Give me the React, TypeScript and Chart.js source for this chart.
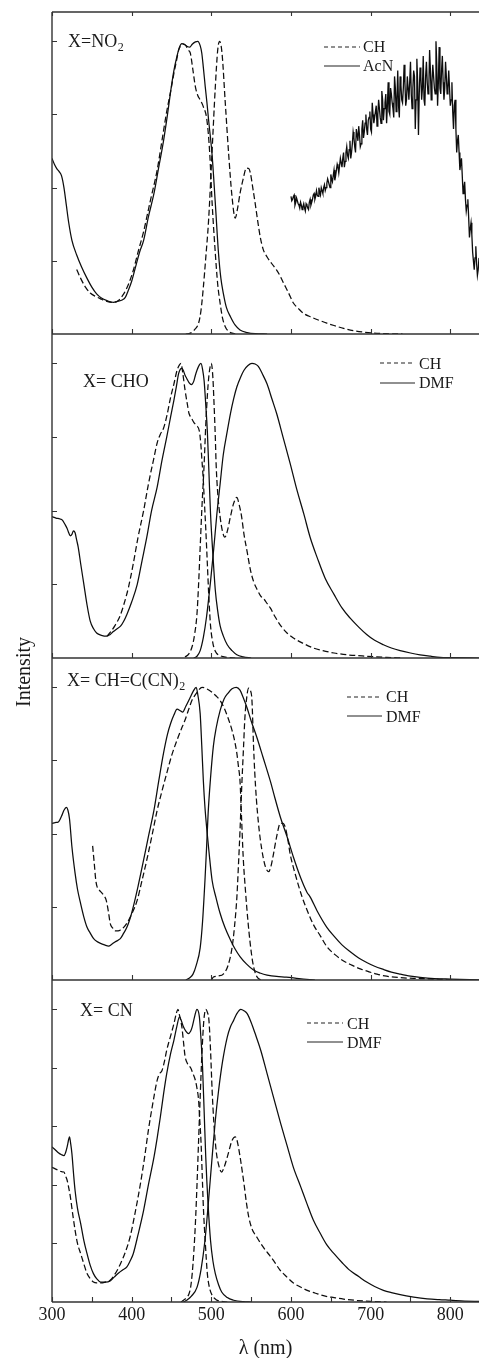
import React, { useEffect, useRef } from "react";
import { Chart, registerables } from "chart.js";

Chart.register(...registerables);

type Pt = [number, number];

// ---------- axis values ----------
const X_MIN = 300;
const X_MAX = 836;
const Y_MAX = 1.1;
const xLabelValues = [300, 400, 500, 600, 700, 800];
const xTicksHundred = [300, 400, 500, 600, 700, 800];
const xTicksFifty = [300, 350, 400, 450, 500, 550, 600, 650, 700, 750, 800];
const yTicksQuarter = [0.25, 0.5, 0.75, 1.0];
const yTicksFifth = [0.2, 0.4, 0.6, 0.8, 1.0];
const xTitle = "λ (nm)";
const yTitle = "Intensity";
const legendAcN = ["CH", "AcN"];
const legendDMF = ["CH", "DMF"];

// ---------- panel 1 : X = NO2 ----------
const p1AbsAcN: Pt[] = [[300,0.60],[303,0.58],[306,0.565],[309,0.555],[312,0.54],[315,0.50],[318,0.44],[321,0.38],[325,0.32],[331,0.27],[337,0.23],[344,0.19],[350,0.16],[356,0.137],[362,0.123],[369,0.114],[377,0.108],[383,0.112],[388,0.116],[392,0.125],[396,0.15],[400,0.18],[405,0.23],[410,0.28],[415,0.32],[421,0.40],[428,0.48],[434,0.57],[440,0.66],[445,0.75],[449,0.83],[453,0.90],[457,0.95],[460,0.98],[463,0.992],[466,0.99],[470,0.982],[473,0.98],[476,0.99],[480,0.998],[483,1.0],[486,0.985],[488,0.96],[490,0.91],[492.4,0.844],[494.5,0.79],[496.6,0.73],[500.8,0.617],[505,0.447],[509,0.276],[512,0.19],[515,0.14],[519,0.09],[524,0.059],[530,0.03],[536,0.014],[545,0.005],[555,0.001],[570,0]];
const p1AbsCH: Pt[] = [[331,0.22],[336,0.19],[342,0.16],[348,0.14],[355,0.128],[361,0.12],[368,0.112],[375,0.108],[382,0.112],[390,0.137],[396,0.17],[402,0.217],[408,0.28],[415,0.35],[423,0.45],[432,0.56],[438,0.66],[444,0.76],[449,0.83],[453,0.89],[456,0.93],[459,0.97],[462,0.985],[465,0.99],[468,0.985],[471,0.97],[473.6,0.96],[477,0.9],[480,0.844],[483,0.815],[486,0.80],[490,0.776],[494.5,0.73],[498,0.617],[501,0.447],[505,0.276],[508,0.17],[511,0.106],[514,0.055],[517.5,0.025],[522,0.008],[530,0]];
const p1EmCH: Pt[] = [[468,0],[473.6,0.003],[479,0.015],[484,0.037],[487,0.08],[490,0.16],[493,0.26],[496.6,0.39],[500.8,0.617],[505,0.844],[508,0.97],[510.4,1.0],[513.4,0.96],[517.5,0.79],[521.7,0.617],[526,0.468],[530,0.396],[533,0.43],[536,0.48],[540,0.53],[544,0.567],[547,0.565],[549,0.55],[552,0.50],[555,0.447],[558,0.39],[561.5,0.33],[565,0.29],[570,0.263],[576,0.24],[582,0.218],[586,0.2],[590.7,0.174],[597,0.14],[603,0.106],[610,0.085],[616,0.07],[625,0.058],[637,0.045],[645,0.037],[654,0.029],[666,0.019],[679,0.011],[692,0.006],[704,0.003],[720,0.001],[740,0]];
const p1EmAcN: Pt[] = [[600,0.47],[601,0.455],[602,0.46],[603,0.47],[604,0.475],[605,0.44],[606,0.45],[607,0.465],[608,0.455],[609,0.445],[610,0.44],[611,0.43],[612,0.45],[613,0.44],[614,0.425],[615,0.435],[616,0.445],[617,0.43],[618,0.42],[619,0.445],[620,0.44],[621,0.43],[622,0.425],[623,0.45],[624,0.46],[625,0.44],[626,0.45],[627,0.46],[628,0.475],[629,0.48],[630,0.46],[631,0.47],[632,0.49],[633,0.475],[634,0.47],[635,0.5],[636,0.485],[637,0.475],[638,0.5],[639,0.49],[640,0.48],[641,0.5],[642,0.51],[643,0.49],[644,0.5],[645,0.515],[646,0.53],[647,0.52],[648,0.51],[649,0.5],[650,0.545],[651,0.53],[652,0.52],[653,0.54],[654,0.56],[655,0.525],[656,0.54],[657,0.56],[658,0.58],[659,0.57],[660,0.55],[661,0.575],[662,0.6],[663,0.585],[664,0.57],[665,0.6],[666,0.62],[667,0.57],[668,0.59],[669,0.62],[670,0.64],[671,0.61],[672,0.6],[673,0.63],[674,0.66],[675,0.6],[676,0.62],[677,0.65],[678,0.69],[679,0.67],[680,0.64],[681,0.62],[682,0.7],[683,0.68],[684,0.66],[685,0.71],[686,0.68],[687,0.64],[688,0.65],[689,0.7],[690,0.73],[691,0.67],[692,0.69],[693,0.72],[694,0.75],[695,0.7],[696,0.68],[697,0.73],[698,0.74],[699,0.76],[700,0.7],[701,0.69],[702,0.79],[703,0.75],[704,0.72],[705,0.74],[706,0.76],[707,0.78],[708,0.71],[709,0.75],[710,0.8],[711,0.77],[712,0.74],[713,0.72],[714,0.83],[715,0.8],[716,0.73],[717,0.77],[718,0.79],[719,0.82],[720,0.72],[721,0.78],[722,0.86],[723,0.76],[724,0.75],[725,0.84],[726,0.82],[727,0.79],[728,0.77],[729,0.74],[730,0.88],[731,0.84],[732,0.76],[733,0.8],[734,0.9],[735,0.78],[736,0.74],[737,0.88],[738,0.85],[739,0.8],[740,0.79],[741,0.84],[742,0.92],[743,0.86],[744,0.78],[745,0.8],[746,0.88],[747,0.84],[748,0.8],[749,0.86],[750,0.93],[751,0.82],[752,0.77],[753,0.84],[754,0.9],[755,0.88],[756,0.7],[757,0.8],[758,0.94],[759,0.86],[760,0.68],[761,0.82],[762,0.91],[763,0.88],[764,0.8],[765,0.84],[766,0.95],[767,0.8],[768,0.78],[769,0.88],[770,0.93],[771,0.86],[772,0.82],[773,0.84],[774,0.97],[775,0.9],[776,0.8],[777,0.86],[778,0.92],[779,0.88],[780,0.84],[781,0.82],[782,1.0],[783,0.92],[784,0.78],[785,0.86],[786,0.98],[787,0.84],[788,0.82],[789,0.9],[790,0.95],[791,0.86],[792,0.8],[793,0.84],[794,0.93],[795,0.88],[796,0.82],[797,0.84],[798,0.9],[799,0.84],[800,0.78],[801,0.8],[802,0.86],[803,0.76],[804,0.7],[805,0.78],[806,0.8],[807,0.7],[808,0.62],[809,0.66],[810,0.68],[811,0.62],[812,0.56],[813,0.58],[814,0.6],[815,0.54],[816,0.48],[817,0.5],[818,0.52],[819,0.46],[820,0.42],[821,0.44],[822,0.46],[823,0.4],[824,0.33],[825,0.36],[826,0.38],[827,0.34],[828,0.28],[829,0.25],[830,0.22],[831,0.26],[832,0.3],[833,0.24],[834,0.2],[835,0.22],[836,0.26]];

// ---------- panel 2 : X = CHO ----------
const p2AbsDMF: Pt[] = [[300,0.48],[305,0.475],[310,0.472],[313,0.468],[316,0.455],[319,0.44],[321,0.425],[323,0.415],[325,0.42],[327,0.432],[329,0.425],[331,0.40],[333,0.375],[336,0.32],[340,0.25],[344,0.18],[348,0.125],[352,0.1],[356,0.085],[362,0.077],[369,0.074],[373,0.08],[377,0.09],[381,0.098],[386,0.108],[390,0.125],[394,0.148],[400,0.19],[407,0.25],[413,0.33],[419,0.41],[425,0.50],[432,0.58],[438,0.67],[444,0.75],[449,0.82],[453,0.875],[456,0.92],[459,0.966],[461,0.98],[463,0.983],[465,0.975],[467,0.96],[469,0.95],[472,0.935],[475,0.928],[478,0.94],[480,0.96],[482,0.977],[485,0.995],[487,1.0],[489,0.98],[491,0.94],[493,0.86],[495,0.77],[497,0.63],[499,0.49],[502,0.35],[505,0.23],[508,0.16],[511,0.11],[515,0.075],[520,0.045],[526,0.025],[532,0.011],[540,0.004],[550,0]];
const p2AbsCH: Pt[] = [[369,0.074],[374,0.09],[379,0.11],[385,0.14],[390,0.18],[396,0.24],[402,0.32],[408,0.41],[415,0.50],[421,0.59],[428,0.68],[432,0.73],[436,0.76],[440,0.78],[444,0.82],[449,0.886],[453,0.93],[457,0.977],[460,0.995],[462,1.0],[464,0.97],[467,0.91],[470,0.86],[472,0.83],[475,0.815],[478,0.80],[481,0.79],[485,0.77],[487,0.72],[488,0.68],[490,0.6],[491,0.545],[493,0.44],[495,0.32],[497,0.2],[499,0.11],[502,0.05],[505,0.023],[509,0.01],[513,0.006],[520,0.002],[530,0]];
const p2EmCH: Pt[] = [[467,0.003],[472,0.015],[476,0.04],[479,0.08],[482,0.15],[484,0.25],[486,0.375],[488,0.5],[491,0.66],[493,0.79],[495,0.89],[497,0.96],[500,1.0],[502,0.95],[503,0.89],[505,0.75],[506,0.66],[508,0.56],[511,0.48],[514,0.43],[517,0.41],[520,0.43],[524,0.48],[528,0.525],[532,0.545],[535,0.52],[538,0.48],[541,0.42],[545,0.36],[549,0.30],[553,0.26],[558,0.23],[562,0.21],[566,0.20],[570,0.185],[574,0.17],[580,0.14],[587,0.11],[595,0.085],[603,0.068],[615,0.05],[628,0.034],[640,0.025],[654,0.017],[670,0.011],[695,0.006],[720,0.002],[740,0]];
const p2EmDMF: Pt[] = [[478,0],[482,0.006],[486,0.025],[490,0.07],[494,0.14],[499,0.26],[503,0.37],[507,0.49],[511,0.59],[515,0.69],[520,0.77],[524,0.83],[528,0.88],[532,0.92],[537,0.955],[541,0.977],[546,0.993],[551,1.0],[555,0.998],[559,0.99],[564,0.965],[570,0.93],[576,0.88],[582,0.83],[590,0.75],[599,0.66],[607,0.575],[616,0.49],[624,0.41],[633,0.34],[643,0.27],[654,0.216],[664,0.17],[674,0.136],[685,0.105],[695,0.08],[705,0.06],[716,0.045],[726,0.034],[737,0.025],[750,0.017],[762,0.011],[775,0.006],[787,0.002],[800,0.001],[836,0]];

// ---------- panel 3 : X = CH=C(CN)2 ----------
const p3AbsDMF: Pt[] = [[300,0.535],[304,0.538],[308,0.54],[312,0.56],[315,0.58],[318,0.59],[320,0.58],[322,0.55],[325,0.455],[329,0.364],[332,0.31],[336,0.26],[340,0.215],[344,0.18],[348,0.16],[352,0.142],[356,0.132],[361,0.125],[366,0.12],[371,0.116],[375,0.122],[379,0.13],[383,0.136],[386,0.142],[390,0.16],[394,0.18],[398,0.21],[402,0.25],[408,0.32],[415,0.41],[421,0.49],[428,0.58],[434,0.68],[440,0.775],[445,0.84],[449,0.877],[453,0.905],[457,0.925],[461,0.92],[464,0.915],[468,0.935],[473.6,0.966],[477,0.985],[481,1.0],[483,0.975],[486,0.91],[488,0.80],[490,0.68],[492,0.59],[494.5,0.51],[497,0.44],[501,0.34],[506,0.28],[511,0.228],[517,0.18],[524,0.137],[530,0.105],[536,0.08],[544,0.055],[553,0.034],[562,0.023],[570,0.017],[582,0.012],[594,0.01],[610,0.005],[630,0]];
const p3AbsCH: Pt[] = [[351,0.458],[353,0.40],[355,0.34],[357,0.315],[360,0.305],[363,0.296],[366,0.285],[368,0.273],[371,0.23],[373,0.194],[376,0.178],[379,0.168],[383,0.168],[386,0.171],[390,0.18],[394,0.194],[400,0.225],[407,0.273],[413,0.34],[419,0.41],[426,0.5],[432,0.58],[438,0.645],[444,0.706],[450,0.765],[457,0.82],[462,0.855],[467,0.888],[471,0.92],[476,0.957],[480,0.975],[484,0.99],[488.3,1.0],[494,0.995],[500,0.985],[506,0.97],[511,0.955],[516,0.93],[521,0.895],[526,0.853],[529,0.82],[532,0.775],[534,0.73],[536,0.68],[538,0.55],[540,0.42],[543,0.30],[546,0.20],[549,0.12],[552,0.06],[555,0.025],[558,0.008],[562,0]];
const p3EmCH: Pt[] = [[500,0],[502.7,0.01],[509,0.014],[515,0.02],[521,0.05],[526,0.11],[529,0.18],[532,0.28],[534,0.39],[536,0.51],[538,0.65],[540.5,0.80],[542,0.89],[544,0.955],[546.8,0.997],[549,0.99],[551,0.955],[553,0.80],[554.5,0.71],[556.5,0.62],[559,0.54],[561.5,0.48],[565,0.42],[568,0.386],[572,0.37],[575,0.39],[578,0.43],[582,0.49],[586.6,0.535],[590,0.535],[593,0.52],[596,0.48],[599,0.43],[605,0.365],[614,0.283],[620,0.24],[628,0.19],[637,0.15],[645,0.114],[656,0.085],[666,0.065],[677,0.05],[687,0.038],[698,0.028],[708,0.02],[720,0.013],[737,0.008],[762,0.005],[790,0.002],[810,0]];
const p3EmDMF: Pt[] = [[468,0],[473,0.008],[477,0.02],[481,0.05],[486,0.11],[489,0.2],[492,0.34],[494,0.45],[496,0.57],[499,0.69],[502.6,0.80],[506,0.86],[511,0.92],[516,0.96],[521,0.98],[526,0.995],[531.4,1.0],[536,0.99],[540,0.965],[544.8,0.93],[550,0.885],[557,0.83],[565,0.76],[574,0.68],[580,0.62],[586.6,0.557],[595,0.49],[603,0.42],[612,0.35],[620,0.3],[624,0.284],[633,0.235],[645,0.18],[654,0.15],[664,0.12],[674,0.097],[685,0.075],[695,0.06],[705,0.047],[716,0.036],[726,0.027],[737,0.02],[750,0.013],[762,0.009],[780,0.005],[800,0.003],[836,0]];

// ---------- panel 4 : X = CN ----------
const p4AbsDMF: Pt[] = [[300,0.53],[304,0.52],[308,0.51],[312,0.503],[315,0.50],[317,0.51],[319,0.53],[321,0.556],[322,0.564],[323.5,0.54],[325,0.507],[327,0.44],[329,0.38],[332,0.32],[336,0.268],[340,0.21],[344,0.165],[348,0.125],[352,0.097],[356,0.08],[361,0.068],[367,0.068],[373,0.072],[378,0.085],[384,0.10],[389,0.11],[394,0.12],[398,0.14],[402,0.165],[408,0.23],[415,0.313],[421,0.40],[428,0.495],[432,0.56],[436,0.632],[440,0.71],[444,0.78],[449,0.85],[453,0.894],[457,0.945],[460,0.974],[462.5,0.96],[465,0.94],[468,0.925],[471,0.917],[474,0.925],[476,0.94],[479,0.975],[482,1.0],[485,0.974],[487,0.9],[489,0.80],[491,0.65],[493,0.495],[496,0.33],[499,0.21],[502,0.14],[505,0.097],[509,0.06],[513,0.034],[520,0.015],[528,0.006],[540,0.001],[550,0]];
const p4AbsCH: Pt[] = [[300,0.46],[304,0.455],[308,0.45],[312,0.445],[315,0.444],[317,0.43],[319,0.416],[321,0.39],[323,0.36],[326,0.30],[329,0.245],[332,0.2],[336,0.165],[340,0.13],[344,0.097],[348,0.08],[352,0.068],[356,0.065],[361,0.065],[367,0.068],[373,0.074],[379,0.095],[386,0.131],[392,0.17],[398,0.222],[404,0.30],[411,0.404],[416,0.49],[421,0.587],[426,0.67],[432,0.757],[435,0.78],[438,0.79],[441,0.82],[444,0.86],[449,0.91],[453,0.95],[456,0.985],[458,1.0],[460,0.98],[463,0.94],[465,0.89],[467,0.84],[470,0.815],[474,0.80],[477,0.78],[480,0.757],[482,0.73],[484,0.69],[485.5,0.62],[487,0.55],[488.5,0.44],[490,0.325],[492.5,0.2],[495,0.097],[498,0.045],[501,0.023],[506,0.008],[511,0.003],[520,0]];
const p4EmCH: Pt[] = [[462,0],[465,0.006],[469,0.015],[472,0.028],[474,0.05],[476,0.097],[478,0.17],[480,0.268],[482,0.4],[484,0.55],[486,0.7],[488,0.837],[490,0.94],[491,0.974],[493,1.0],[495,0.99],[497,0.962],[499,0.86],[501,0.723],[503,0.62],[506,0.518],[509,0.47],[513,0.444],[516,0.46],[520,0.495],[523,0.525],[526,0.552],[530,0.564],[532,0.555],[534,0.53],[537,0.48],[541,0.404],[544,0.34],[547,0.29],[551,0.25],[557,0.222],[562,0.2],[568,0.177],[573,0.16],[578,0.142],[586,0.11],[595,0.085],[603,0.065],[612,0.051],[622,0.038],[633,0.028],[643,0.02],[654,0.015],[666,0.01],[679,0.006],[700,0.002],[720,0]];
const p4EmDMF: Pt[] = [[465,0],[469,0.006],[475,0.02],[482,0.05],[487,0.11],[492,0.21],[496,0.33],[501,0.495],[505,0.62],[509,0.72],[514,0.82],[520,0.905],[524,0.94],[528,0.962],[532,0.985],[537,1.0],[541,0.995],[545,0.985],[550,0.955],[555,0.917],[562,0.86],[570,0.78],[578,0.7],[587,0.61],[595,0.535],[603,0.46],[612,0.395],[620,0.336],[628,0.28],[637,0.233],[645,0.195],[654,0.165],[664,0.135],[674,0.108],[685,0.087],[695,0.068],[705,0.053],[716,0.04],[726,0.032],[737,0.025],[754,0.017],[771,0.011],[786,0.008],[800,0.006],[818,0.003],[836,0.002]];

// ---------- layout / styling ----------
const FONT = '"Liberation Serif", "Times New Roman", Times, serif';
const PAGE_W = 479;
const PAGE_H = 1358;
const PLOT_LEFT = 52;
const PAD = 6;
const INK = "#0d0d0d";
const AXIS = "#333";

interface Series { data: Pt[]; dashed: boolean; noisy?: boolean }
interface LegendRow { text: string; dashed: boolean; lineY: number; baseline: number }
interface Panel {
  top: number;
  bottom: number;
  series: Series[];
  yTicks: number[];
  bottomTicks: number[];
  topTicks: number[] | null;
  label: { main: string; sub?: string; x: number; baseline: number };
  legend: { x0: number; x1: number; tx: number; rows: LegendRow[] };
  showX: boolean;
}

const panels: Panel[] = [
  {
    top: 12, bottom: 334,
    series: [
      { data: p1AbsAcN, dashed: false },
      { data: p1AbsCH, dashed: true },
      { data: p1EmCH, dashed: true },
      { data: p1EmAcN, dashed: false, noisy: true },
    ],
    yTicks: yTicksQuarter, bottomTicks: xTicksHundred, topTicks: xTicksHundred,
    label: { main: "X=NO", sub: "2", x: 68, baseline: 35 },
    legend: { x0: 324, x1: 360, tx: 363, rows: [
      { text: legendAcN[0], dashed: true, lineY: 35, baseline: 40 },
      { text: legendAcN[1], dashed: false, lineY: 54, baseline: 59 },
    ] },
    showX: false,
  },
  {
    top: 334, bottom: 658,
    series: [
      { data: p2AbsDMF, dashed: false },
      { data: p2AbsCH, dashed: true },
      { data: p2EmCH, dashed: true },
      { data: p2EmDMF, dashed: false },
    ],
    yTicks: yTicksQuarter, bottomTicks: xTicksHundred, topTicks: null,
    label: { main: "X= CHO", x: 83, baseline: 53 },
    legend: { x0: 380, x1: 415, tx: 419, rows: [
      { text: legendDMF[0], dashed: true, lineY: 29, baseline: 35 },
      { text: legendDMF[1], dashed: false, lineY: 49, baseline: 54 },
    ] },
    showX: false,
  },
  {
    top: 658, bottom: 980,
    series: [
      { data: p3AbsDMF, dashed: false },
      { data: p3AbsCH, dashed: true },
      { data: p3EmCH, dashed: true },
      { data: p3EmDMF, dashed: false },
    ],
    yTicks: yTicksQuarter, bottomTicks: xTicksHundred, topTicks: null,
    label: { main: "X= CH=C(CN)", sub: "2", x: 67, baseline: 28 },
    legend: { x0: 347, x1: 382, tx: 386, rows: [
      { text: legendDMF[0], dashed: true, lineY: 39, baseline: 44 },
      { text: legendDMF[1], dashed: false, lineY: 58, baseline: 64 },
    ] },
    showX: false,
  },
  {
    top: 980, bottom: 1302,
    series: [
      { data: p4AbsDMF, dashed: false },
      { data: p4AbsCH, dashed: true },
      { data: p4EmCH, dashed: true },
      { data: p4EmDMF, dashed: false },
    ],
    yTicks: yTicksFifth, bottomTicks: xTicksFifty, topTicks: null,
    label: { main: "X= CN", x: 80, baseline: 36 },
    legend: { x0: 307, x1: 343, tx: 347, rows: [
      { text: legendDMF[0], dashed: true, lineY: 43, baseline: 49 },
      { text: legendDMF[1], dashed: false, lineY: 62, baseline: 68 },
    ] },
    showX: true,
  },
];

function PanelChart({ panel }: { panel: Panel }) {
  const ref = useRef<HTMLCanvasElement | null>(null);
  const canvasTop = panel.top - PAD;
  const canvasHeight = panel.showX ? PAGE_H - canvasTop : panel.bottom - panel.top + 2 * PAD;
  const axisBoxHeight = PAGE_H - panel.bottom;

  useEffect(() => {
    if (!ref.current) return;
    const framePlugin = {
      id: "frame",
      afterDatasetsDraw(chart: any) {
        const { ctx, chartArea } = chart;
        const { left, right, top, bottom } = chartArea;
        const xs = chart.scales.x;
        const ys = chart.scales.y;
        ctx.save();
        ctx.strokeStyle = AXIS;
        ctx.lineWidth = 1.4;
        ctx.setLineDash([]);
        ctx.beginPath();
        ctx.moveTo(left, top);
        ctx.lineTo(left, bottom);
        ctx.moveTo(left, bottom);
        ctx.lineTo(right, bottom);
        if (panel.topTicks) {
          ctx.moveTo(left, top);
          ctx.lineTo(right, top);
        }
        ctx.stroke();
        ctx.lineWidth = 1.1;
        ctx.beginPath();
        for (const v of panel.yTicks) {
          const py = Math.round(ys.getPixelForValue(v)) + 0.5;
          ctx.moveTo(left, py);
          ctx.lineTo(left + 5, py);
        }
        for (const v of panel.bottomTicks) {
          const px = Math.round(xs.getPixelForValue(v)) + 0.5;
          ctx.moveTo(px, bottom);
          ctx.lineTo(px, bottom - 5);
        }
        if (panel.topTicks) {
          for (const v of panel.topTicks) {
            const px = Math.round(xs.getPixelForValue(v)) + 0.5;
            ctx.moveTo(px, top);
            ctx.lineTo(px, top + 4);
          }
        }
        ctx.stroke();

        // panel label
        ctx.fillStyle = "#1a1a1a";
        ctx.textBaseline = "alphabetic";
        ctx.textAlign = "left";
        ctx.font = `18px ${FONT}`;
        const ly = top + panel.label.baseline;
        ctx.fillText(panel.label.main, panel.label.x, ly);
        if (panel.label.sub) {
          const w = ctx.measureText(panel.label.main).width;
          ctx.font = `12px ${FONT}`;
          ctx.fillText(panel.label.sub, panel.label.x + w + 0.5, ly + 4);
        }

        // legend
        const lg = panel.legend;
        ctx.font = `16px ${FONT}`;
        for (const row of lg.rows) {
          ctx.strokeStyle = "#222";
          ctx.lineWidth = 1.2;
          ctx.setLineDash(row.dashed ? [4, 3] : []);
          ctx.beginPath();
          ctx.moveTo(lg.x0, top + row.lineY);
          ctx.lineTo(lg.x1, top + row.lineY);
          ctx.stroke();
          ctx.fillText(row.text, lg.tx, top + row.baseline);
        }
        ctx.restore();
      },
    };

    const datasets = panel.series.map((s) => ({
      data: s.data.map(([x, y]) => ({ x, y })),
      borderColor: INK,
      borderWidth: s.noisy ? 1.3 : 1.25,
      borderDash: s.dashed ? [6, 3] : [],
      pointRadius: 0,
      fill: false,
      tension: s.noisy ? 0 : 0.4,
      cubicInterpolationMode: s.noisy ? "default" : "monotone",
    }));

    const chart = new Chart(ref.current, {
      type: "line",
      data: { datasets } as any,
      options: {
        animation: false,
        responsive: false,
        maintainAspectRatio: false,
        devicePixelRatio: 1,
        events: [],
        layout: { padding: { left: PLOT_LEFT, right: 0, top: PAD, bottom: panel.showX ? 0 : PAD } },
        plugins: { legend: { display: false }, tooltip: { enabled: false } },
        scales: {
          x: {
            type: "linear",
            min: X_MIN,
            max: X_MAX,
            display: panel.showX,
            grid: { display: false, drawTicks: false },
            border: { display: false },
            ticks: {
              autoSkip: false,
              maxRotation: 0,
              padding: 2,
              color: "#1a1a1a",
              font: { family: FONT, size: 18, lineHeight: 1.2 },
            },
            title: {
              display: panel.showX,
              text: xTitle,
              color: "#1a1a1a",
              font: { family: FONT, size: 20, lineHeight: 0.9 },
              padding: { top: 0, bottom: 0 },
            },
            afterBuildTicks: (scale: any) => {
              scale.ticks = xLabelValues.map((v) => ({ value: v }));
            },
            afterFit: (scale: any) => {
              if (panel.showX) scale.height = axisBoxHeight;
            },
          },
          y: { type: "linear", min: 0, max: Y_MAX, display: false },
        },
      } as any,
      plugins: [framePlugin],
    });
    return () => chart.destroy();
  }, [panel]);

  return (
    <canvas
      ref={ref}
      width={PAGE_W}
      height={canvasHeight}
      style={{ position: "absolute", left: 0, top: canvasTop, width: PAGE_W, height: canvasHeight, display: "block" }}
    />
  );
}

export default function App() {
  return (
    <div style={{ position: "absolute", left: 0, top: 0, width: PAGE_W, height: PAGE_H, overflow: "hidden", background: "#fff" }}>
      {panels.map((p, i) => (
        <PanelChart key={i} panel={p} />
      ))}
      <div
        style={{
          position: "absolute",
          left: 23,
          top: 672,
          transform: "translate(-50%, -50%) rotate(-90deg)",
          fontFamily: FONT,
          fontSize: 20,
          color: "#1a1a1a",
          whiteSpace: "nowrap",
          lineHeight: 1,
        }}
      >
        {yTitle}
      </div>
    </div>
  );
}
